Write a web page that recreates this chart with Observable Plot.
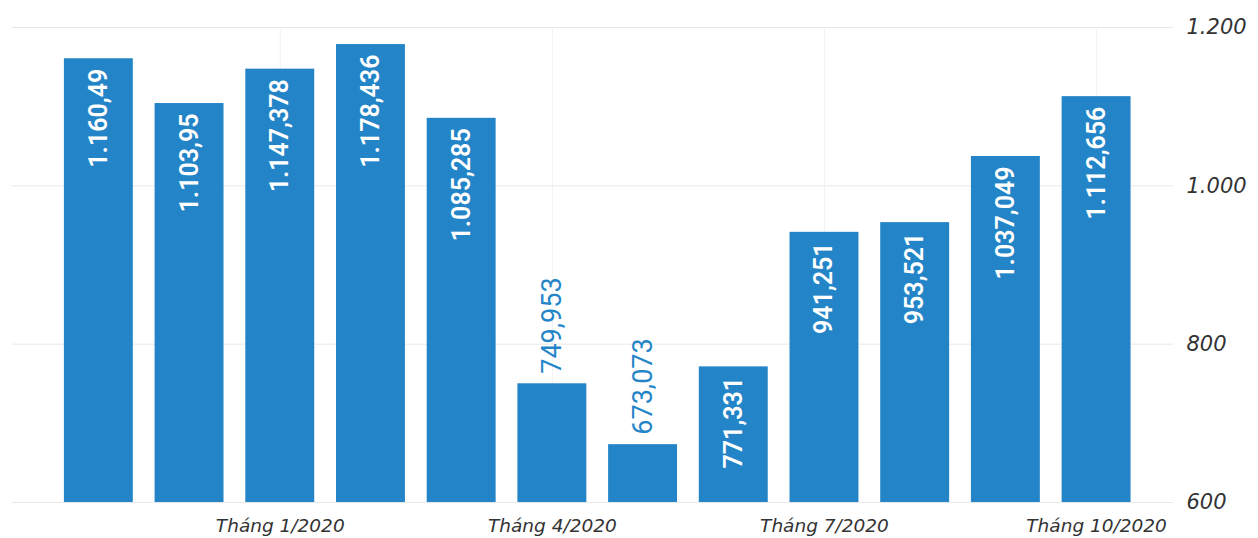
<!DOCTYPE html>
<html><head><meta charset="utf-8">
<script src="https://cdn.jsdelivr.net/npm/d3@7"></script>
<script src="https://cdn.jsdelivr.net/npm/@observablehq/plot@0.6"></script>
<style>
body{margin:0;background:#fff;}
svg{display:block;}
g[aria-label="x-axis tick label"] text, g[aria-label="y-axis tick label"] text{font-style:italic;}
</style></head><body><div id="chart"></div>
<script>
const months = ["Tháng 11/2019","Tháng 12/2019","Tháng 1/2020","Tháng 2/2020","Tháng 3/2020","Tháng 4/2020","Tháng 5/2020","Tháng 6/2020","Tháng 7/2020","Tháng 8/2020","Tháng 9/2020","Tháng 10/2020"];
const values = [1160.49, 1103.95, 1147.378, 1178.436, 1085.285, 749.953, 673.073, 771.331, 941.251, 953.521, 1037.049, 1112.656];
const xTickLabels = ["Tháng 1/2020","Tháng 4/2020","Tháng 7/2020","Tháng 10/2020"];
const yTicks = [600, 800, 1000, 1200];
const yDomain = [600, 1200];

const data = months.map((m, i) => ({month: m, value: values[i]}));
const vi = d3.formatLocale({decimal: ",", thousands: ".", grouping: [3], currency: ["", ""]});
const fmtVal = vi.format(",.3~f");
const fmtTick = vi.format(",d");
const inside = d => d.value >= 760;
const blue = "#2385c8";

const chart = Plot.plot({
  width: 1258, height: 538,
  marginTop: 27, marginBottom: 36, marginLeft: 12, marginRight: 85,
  x: {domain: months, paddingInner: 0.24, paddingOuter: 0.52, align: 0.55, round: false, label: null},
  y: {domain: yDomain, label: null},
  style: {fontFamily: "'DejaVu Sans', sans-serif", background: "#fff", color: "#333"},
  marks: [
    Plot.gridY(yTicks, {stroke: "#e8e8e8", strokeOpacity: 1}),
    Plot.gridX(xTickLabels, {stroke: "#f2f2f2", strokeOpacity: 1}),
    Plot.barY(data, {x: "month", y1: () => yDomain[0], y2: "value", fill: blue}),
    Plot.text(data.filter(inside), {x: "month", y: "value", text: d => fmtVal(d.value), rotate: -90, textAnchor: "end", dy: 10, fill: "white", fontSize: 25, fontWeight: 600, fontFamily: "Roboto"}),
    Plot.text(data.filter(d => !inside(d)), {x: "month", y: "value", text: d => fmtVal(d.value), rotate: -90, textAnchor: "start", dy: -10, fill: blue, fontSize: 27, fontWeight: 400, fontFamily: "Roboto"}),
    Plot.axisX(xTickLabels, {tickSize: 0, tickPadding: 16, fontSize: 18.5, fill: "#333", label: null}),
    Plot.axisY(yTicks, {anchor: "right", tickSize: 0, tickPadding: 13, tickFormat: fmtTick, fontSize: 21, fill: "#333", label: null})
  ]
});
document.getElementById("chart").appendChild(chart);
</script></body></html>
